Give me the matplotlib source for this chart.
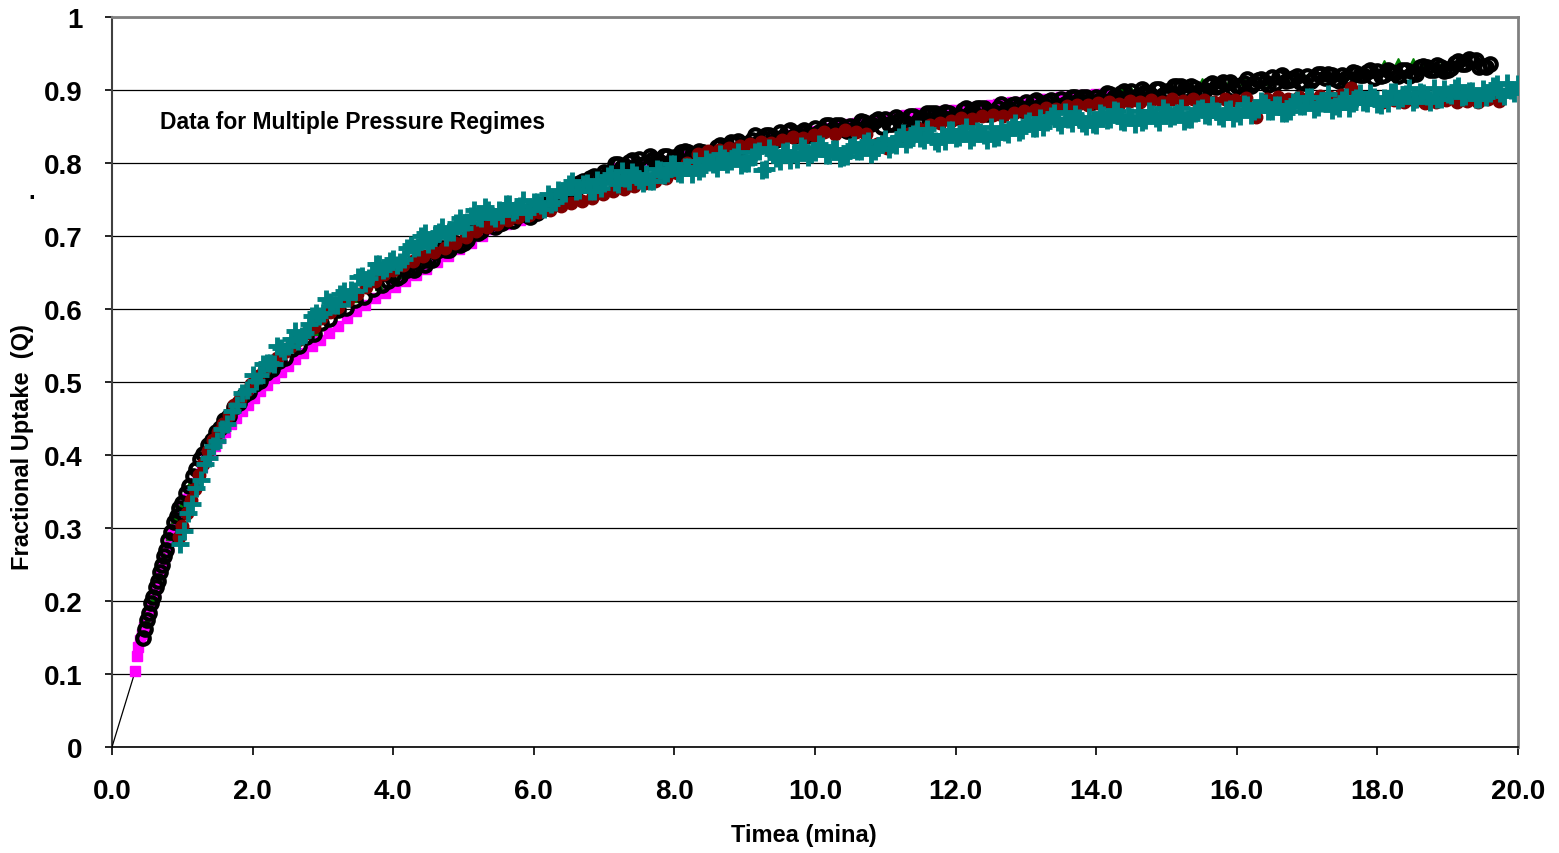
import matplotlib
matplotlib.use("Agg")
import matplotlib.pyplot as plt
from matplotlib.ticker import MultipleLocator, FixedLocator

plt.rcParams["font.family"] = ["Liberation Sans", "DejaVu Sans"]
plt.rcParams["font.weight"] = "bold"

# ---- uptake data, time in min, Q = fractional uptake ----
# magenta squares
T_MAG = [0.33, 0.35, 0.37, 0.40, 0.43, 0.46, 0.49, 0.52, 0.55, 0.58, 0.61, 0.64, 0.67,
         0.70, 0.73, 0.76, 0.79, 0.83, 0.87, 0.91, 0.95, 1.00, 1.05, 1.10, 1.16, 1.22,
         1.28, 1.34, 1.40, 1.47, 1.54, 1.61, 1.69, 1.77, 1.85, 1.93, 2.02, 2.11, 2.20,
         2.30, 2.40, 2.50, 2.61, 2.72, 2.84, 2.96, 3.08, 3.21, 3.34, 3.47, 3.60, 3.74,
         3.88, 4.02, 4.17, 4.32, 4.47, 4.62, 4.78, 4.94, 5.10, 5.26, 5.42, 5.60, 5.80,
         6.00, 6.20, 6.40, 6.60, 6.80, 7.00, 7.20, 7.40, 7.60, 7.80, 8.00, 8.20, 8.40,
         8.60, 8.80, 9.00, 9.20, 9.40, 9.60, 9.80, 10.00, 10.20, 10.40, 10.50, 10.60,
         10.70, 10.80, 10.90, 11.00, 11.10, 11.20, 11.30, 11.40, 11.50, 11.60, 11.70,
         11.80, 11.90, 12.00, 12.10, 12.20, 12.30, 12.40, 12.50, 12.60, 12.70, 12.80,
         12.90, 13.00, 13.10, 13.20, 13.30, 13.40, 13.50, 13.60, 13.70, 13.80, 13.90,
         14.00, 14.10, 14.20]
Q_MAG = [0.104, 0.124, 0.137, 0.146, 0.155, 0.164, 0.174, 0.183, 0.193, 0.202, 0.212,
         0.222, 0.232, 0.242, 0.252, 0.262, 0.272, 0.285, 0.297, 0.308, 0.318, 0.329,
         0.340, 0.350, 0.362, 0.373, 0.384, 0.393, 0.403, 0.413, 0.423, 0.432, 0.442,
         0.451, 0.460, 0.469, 0.478, 0.487, 0.496, 0.505, 0.514, 0.522, 0.531, 0.540,
         0.549, 0.558, 0.567, 0.577, 0.587, 0.597, 0.606, 0.615, 0.622, 0.630, 0.638,
         0.647, 0.655, 0.664, 0.673, 0.682, 0.691, 0.700, 0.709, 0.716, 0.722, 0.729,
         0.736, 0.748, 0.761, 0.772, 0.783, 0.793, 0.797, 0.800, 0.803, 0.806, 0.809,
         0.812, 0.815, 0.820, 0.826, 0.831, 0.835, 0.838, 0.841, 0.844, 0.848, 0.851,
         0.853, 0.855, 0.856, 0.858, 0.860, 0.862, 0.863, 0.864, 0.866, 0.867, 0.868,
         0.869, 0.870, 0.871, 0.872, 0.873, 0.874, 0.875, 0.877, 0.878, 0.879, 0.881,
         0.882, 0.883, 0.884, 0.885, 0.886, 0.887, 0.888, 0.889, 0.890, 0.891, 0.892,
         0.893, 0.893, 0.894, 0.894, 0.895]

# green triangles
T_GRN = [0.50, 0.58, 0.66, 0.74, 0.82, 0.90, 1.00, 1.12, 1.25, 1.40, 1.55, 1.70, 1.90,
         2.10, 2.35, 2.60, 2.90, 3.20, 3.50, 3.80, 4.10, 4.40, 4.70, 5.00, 5.30, 5.60,
         5.90, 6.20, 6.50, 6.80, 7.10, 7.40, 7.70, 8.00, 8.30, 8.60, 8.90, 9.20, 9.50,
         9.80, 10.10, 10.40, 10.70, 11.00, 11.30, 11.60, 11.90, 12.20, 12.50, 12.80,
         13.10, 13.40, 13.70, 14.00, 14.20, 14.37, 14.50, 14.80, 15.10, 15.30, 15.50,
         15.70, 15.90, 16.10, 16.40, 16.70, 17.00, 17.30, 17.60, 17.90, 18.10, 18.30,
         18.50, 18.65, 18.90, 19.10]
Q_GRN = [0.172, 0.203, 0.232, 0.260, 0.289, 0.312, 0.333, 0.363, 0.392, 0.418, 0.440,
         0.461, 0.483, 0.502, 0.524, 0.546, 0.570, 0.596, 0.615, 0.632, 0.648, 0.663,
         0.678, 0.695, 0.711, 0.722, 0.730, 0.741, 0.760, 0.777, 0.794, 0.800, 0.804,
         0.808, 0.812, 0.818, 0.826, 0.834, 0.838, 0.842, 0.846, 0.850, 0.854, 0.857,
         0.861, 0.864, 0.867, 0.870, 0.874, 0.878, 0.881, 0.884, 0.887, 0.890, 0.895,
         0.903, 0.899, 0.898, 0.902, 0.910, 0.911, 0.912, 0.912, 0.912, 0.913, 0.915,
         0.917, 0.918, 0.920, 0.923, 0.936, 0.938, 0.938, 0.936, 0.931, 0.934]

# black open circles, first pass
T_BLK_A = [0.44, 0.47, 0.50, 0.53, 0.56, 0.59, 0.62, 0.65, 0.68, 0.71, 0.74, 0.77, 0.80,
           0.84, 0.88, 0.92, 0.96, 1.00, 1.05, 1.10, 1.15, 1.20, 1.25, 1.30, 1.36, 1.42,
           1.48, 1.54, 1.60, 1.67, 1.74, 1.81, 1.88, 1.95, 2.03, 2.11, 2.19, 2.28, 2.37,
           2.46, 2.56, 2.66, 2.76, 2.87, 2.98, 3.09, 3.21, 3.33, 3.45, 3.58, 3.71, 3.84,
           3.92,
           4.0, 4.1, 4.2, 4.3, 4.4, 4.5, 4.6, 4.7, 4.8, 4.9,
           5.0, 5.1, 5.2, 5.3, 5.4, 5.5, 5.6, 5.7, 5.8, 5.9,
           6.0, 6.1, 6.2, 6.3, 6.4, 6.5, 6.6, 6.7, 6.8, 6.9,
           7.0, 7.1, 7.2, 7.3, 7.4, 7.5, 7.6, 7.7, 7.8, 7.9,
           8.0, 8.1, 8.2, 8.3, 8.4, 8.5, 8.6, 8.7, 8.8, 8.9,
           9.0, 9.1, 9.2, 9.3, 9.4, 9.5, 9.6, 9.7, 9.8, 9.9,
           10.0, 10.1, 10.2, 10.3, 10.4, 10.5, 10.6, 10.7, 10.8, 10.9,
           11.0, 11.1, 11.2, 11.3, 11.4, 11.5, 11.6, 11.7, 11.8, 11.9,
           12.0, 12.1, 12.2, 12.3, 12.4, 12.5, 12.6, 12.7, 12.8, 12.9,
           13.0, 13.1, 13.2, 13.3, 13.4, 13.5, 13.6, 13.7, 13.8, 13.9,
           14.0, 14.1, 14.2, 14.3, 14.4, 14.5, 14.6, 14.7, 14.8, 14.9,
           15.0, 15.1, 15.2, 15.3, 15.4, 15.5, 15.6, 15.7, 15.8, 15.9,
           16.0, 16.1, 16.2, 16.3, 16.4, 16.5, 16.6, 16.7, 16.8, 16.9,
           17.0, 17.1, 17.2, 17.3, 17.4, 17.5, 17.6, 17.7, 17.8, 17.9,
           18.0, 18.1, 18.2, 18.3, 18.4, 18.5, 18.6, 18.7, 18.8, 18.9,
           19.0, 19.1, 19.2, 19.3, 19.4, 19.5, 19.6]
Q_BLK_A = [0.150, 0.161, 0.174, 0.184, 0.197, 0.206, 0.219, 0.228, 0.240, 0.249, 0.262,
           0.270, 0.283, 0.295, 0.308, 0.316, 0.327, 0.334, 0.348, 0.357, 0.371, 0.381,
           0.394, 0.402, 0.414, 0.420, 0.431, 0.437, 0.448, 0.454, 0.466, 0.471, 0.482,
           0.486, 0.497, 0.502, 0.513, 0.518, 0.529, 0.533, 0.545, 0.549, 0.561, 0.566,
           0.581, 0.586, 0.599, 0.602, 0.613, 0.616, 0.628, 0.633,
           0.638,
           0.647, 0.645, 0.654, 0.653, 0.666, 0.667, 0.678, 0.683, 0.681, 0.691,
           0.690, 0.703, 0.704, 0.715, 0.719, 0.717, 0.724, 0.720, 0.731, 0.729,
           0.738, 0.741, 0.738, 0.748, 0.748, 0.762, 0.764, 0.775, 0.780, 0.779,
           0.788, 0.788, 0.798, 0.796, 0.804, 0.805, 0.800, 0.805, 0.801, 0.810,
           0.808, 0.815, 0.815, 0.810, 0.815, 0.811, 0.822, 0.820, 0.829, 0.830,
           0.826, 0.832, 0.829, 0.838, 0.835, 0.843, 0.843, 0.837, 0.842, 0.838,
           0.848, 0.845, 0.852, 0.852, 0.846, 0.851, 0.847, 0.856, 0.853, 0.860,
           0.860, 0.854, 0.859, 0.855, 0.864, 0.861, 0.868, 0.868, 0.863, 0.868,
           0.863, 0.872, 0.869, 0.876, 0.876, 0.870, 0.876, 0.871, 0.880, 0.877,
           0.884, 0.884, 0.878, 0.883, 0.878, 0.887, 0.884, 0.891, 0.891, 0.885,
           0.890, 0.885, 0.894, 0.891, 0.898, 0.898, 0.892, 0.897, 0.892, 0.901,
           0.898, 0.905, 0.905, 0.898, 0.903, 0.898, 0.907, 0.904, 0.911, 0.911,
           0.905, 0.910, 0.905, 0.914, 0.911, 0.918, 0.918, 0.912, 0.916, 0.911,
           0.919, 0.916, 0.922, 0.922, 0.915, 0.920, 0.915, 0.923, 0.920, 0.927,
           0.926, 0.920, 0.924, 0.919, 0.928, 0.924, 0.932, 0.932, 0.927, 0.932,
           0.928, 0.937, 0.935, 0.942, 0.941, 0.933, 0.936]

# black open circles, in-between readings
T_BLK_B = [4.05, 4.15, 4.25, 4.35, 4.45, 4.55, 4.65, 4.75, 4.85, 4.95,
           5.05, 5.15, 5.25, 5.35, 5.45, 5.55, 5.65, 5.75, 5.85, 5.95,
           6.05, 6.15, 6.25, 6.35, 6.45, 6.55, 6.65, 6.75, 6.85, 6.95,
           7.05, 7.15, 7.25, 7.35, 7.45, 7.55, 7.65, 7.75, 7.85, 7.95,
           8.05, 8.15, 8.25, 8.35, 8.45, 8.55, 8.65, 8.75, 8.85, 8.95,
           9.05, 9.15, 9.25, 9.35, 9.45, 9.55, 9.65, 9.75, 9.85, 9.95,
           10.05, 10.15, 10.25, 10.35, 10.45, 10.55, 10.65, 10.75, 10.85, 10.95,
           11.05, 11.15, 11.25, 11.35, 11.45, 11.55, 11.65, 11.75, 11.85, 11.95,
           12.05, 12.15, 12.25, 12.35, 12.45, 12.55, 12.65, 12.75, 12.85, 12.95,
           13.05, 13.15, 13.25, 13.35, 13.45, 13.55, 13.65, 13.75, 13.85, 13.95,
           14.05, 14.15, 14.25, 14.35, 14.45, 14.55, 14.65, 14.75, 14.85, 14.95,
           15.05, 15.15, 15.25, 15.35, 15.45, 15.55, 15.65, 15.75, 15.85, 15.95,
           16.05, 16.15, 16.25, 16.35, 16.45, 16.55, 16.65, 16.75, 16.85, 16.95,
           17.05, 17.15, 17.25, 17.35, 17.45, 17.55, 17.65, 17.75, 17.85, 17.95,
           18.05, 18.15, 18.25, 18.35, 18.45, 18.55, 18.65, 18.75, 18.85, 18.95,
           19.05, 19.15, 19.25, 19.35, 19.45, 19.55]
Q_BLK_B = [0.642, 0.656, 0.655, 0.664, 0.660, 0.667, 0.681, 0.681, 0.690, 0.687,
           0.694, 0.708, 0.707, 0.716, 0.712, 0.718, 0.729, 0.726, 0.732, 0.726,
           0.731, 0.744, 0.743, 0.753, 0.750, 0.758, 0.773, 0.772, 0.782, 0.779,
           0.786, 0.799, 0.795, 0.801, 0.794, 0.798, 0.809, 0.804, 0.810, 0.802,
           0.806, 0.816, 0.811, 0.817, 0.809, 0.814, 0.825, 0.822, 0.828, 0.822,
           0.826, 0.838, 0.834, 0.839, 0.831, 0.835, 0.845, 0.840, 0.845, 0.838,
           0.842, 0.852, 0.847, 0.852, 0.844, 0.847, 0.858, 0.853, 0.858, 0.850,
           0.853, 0.863, 0.858, 0.864, 0.856, 0.859, 0.869, 0.864, 0.870, 0.862,
           0.865, 0.875, 0.870, 0.875, 0.867, 0.870, 0.881, 0.876, 0.881, 0.873,
           0.876, 0.886, 0.881, 0.886, 0.878, 0.881, 0.891, 0.886, 0.891, 0.883,
           0.886, 0.896, 0.891, 0.896, 0.888, 0.891, 0.901, 0.896, 0.901, 0.893,
           0.896, 0.906, 0.900, 0.905, 0.897, 0.900, 0.910, 0.905, 0.910, 0.902,
           0.905, 0.915, 0.910, 0.915, 0.907, 0.910, 0.920, 0.914, 0.919, 0.910,
           0.913, 0.922, 0.917, 0.921, 0.913, 0.916, 0.925, 0.920, 0.925, 0.916,
           0.919, 0.928, 0.923, 0.928, 0.919, 0.922, 0.933, 0.928, 0.934, 0.926,
           0.930, 0.940, 0.936, 0.940, 0.931, 0.932]

# dark red filled circles
T_RED = [0.95, 1.00, 1.06, 1.12, 1.18, 1.24, 1.30, 1.37, 1.44, 1.51, 1.58, 1.66, 1.74,
         1.82, 1.90, 1.98, 2.07, 2.16, 2.26, 2.35, 2.45, 2.55, 2.65, 2.76, 2.87, 2.98,
         3.10, 3.22, 3.35, 3.48, 3.61, 3.74, 3.87, 4.00, 4.14, 4.28, 4.43, 4.58, 4.73,
         4.88, 5.03, 5.18, 5.33, 5.48, 5.63, 5.78, 5.93, 6.08, 6.23, 6.38, 6.53, 6.68,
         6.83, 6.98, 7.13, 7.28, 7.43, 7.58, 7.73, 7.88, 8.03, 8.18, 8.33, 8.48, 8.63,
         8.78, 8.93, 9.08, 9.23, 9.38, 9.53, 9.68, 9.83, 9.98, 10.13, 10.28, 10.43,
         10.58, 10.73, 10.88, 11.03, 11.18, 11.33, 11.48, 11.63, 11.78, 11.93, 12.08,
         12.23, 12.38, 12.53, 12.68, 12.83, 12.98, 13.13, 13.28, 13.43, 13.58, 13.73,
         13.88, 14.03, 14.18, 14.33, 14.48, 14.63, 14.78, 14.93, 15.08, 15.23, 15.38,
         15.53, 15.68, 15.83, 15.98, 16.13, 16.28, 16.43, 16.58, 16.73, 16.88, 17.03,
         17.18, 17.33, 17.48, 17.63, 17.78, 17.93, 18.08, 18.23, 18.38, 18.53, 18.68,
         18.83, 18.98, 19.13, 19.28, 19.43, 19.58, 19.73]
Q_RED = [0.288, 0.303, 0.320, 0.338, 0.354, 0.372, 0.388, 0.405, 0.420, 0.432, 0.442,
         0.455, 0.468, 0.477, 0.488, 0.497, 0.508, 0.517, 0.525, 0.533, 0.541, 0.550,
         0.557, 0.567, 0.576, 0.588, 0.596, 0.603, 0.612, 0.621, 0.630, 0.638, 0.648,
         0.654, 0.660, 0.666, 0.672, 0.678, 0.683, 0.690, 0.699, 0.707, 0.713, 0.716,
         0.722, 0.726, 0.729, 0.733, 0.736, 0.741, 0.745, 0.748, 0.752, 0.757, 0.762,
         0.765, 0.768, 0.772, 0.775, 0.779, 0.786, 0.800, 0.812, 0.816, 0.818, 0.820,
         0.823, 0.826, 0.829, 0.827, 0.832, 0.836, 0.834, 0.838, 0.842, 0.840, 0.845,
         0.843, 0.840, 0.826, 0.820, 0.832, 0.840, 0.846, 0.852, 0.855, 0.858, 0.861,
         0.860, 0.864, 0.866, 0.865, 0.869, 0.871, 0.873, 0.876, 0.874, 0.878, 0.880,
         0.879, 0.882, 0.884, 0.881, 0.885, 0.883, 0.886, 0.884, 0.887, 0.885, 0.888,
         0.886, 0.884, 0.888, 0.886, 0.889, 0.863, 0.887, 0.890, 0.888, 0.891, 0.889,
         0.892, 0.890, 0.893, 0.903, 0.891, 0.888, 0.884, 0.886, 0.883, 0.885, 0.882,
         0.884, 0.886, 0.883, 0.885, 0.884, 0.887, 0.885]

# teal plus signs, first pass
T_TEAL_A = [0.97, 1.02, 1.08, 1.14, 1.20, 1.26, 1.32, 1.38, 1.44, 1.50, 1.57, 1.64, 1.71,
            1.78, 1.85, 1.92,
            2.0, 2.1, 2.2, 2.3, 2.4, 2.5, 2.6, 2.7, 2.8, 2.9,
            3.0, 3.1, 3.2, 3.3, 3.4, 3.5, 3.6, 3.7, 3.8, 3.9,
            4.0, 4.1, 4.2, 4.3, 4.4, 4.5, 4.6, 4.7, 4.8, 4.9,
            5.0, 5.1, 5.2, 5.3, 5.4, 5.5, 5.6, 5.7, 5.8, 5.9,
            6.0, 6.1, 6.2, 6.3, 6.4, 6.5, 6.6, 6.7, 6.8, 6.9,
            7.0, 7.1, 7.2, 7.3, 7.4, 7.5, 7.6, 7.7, 7.8, 7.9,
            8.0, 8.1, 8.2, 8.3, 8.4, 8.5, 8.6, 8.7, 8.8, 8.9,
            9.0, 9.1, 9.2, 9.3, 9.4, 9.5, 9.6, 9.7, 9.8, 9.9,
            10.0, 10.1, 10.2, 10.3, 10.4, 10.5, 10.6, 10.7, 10.8, 10.9,
            11.0, 11.1, 11.2, 11.3, 11.4, 11.5, 11.6, 11.7, 11.8, 11.9,
            12.0, 12.1, 12.2, 12.3, 12.4, 12.5, 12.6, 12.7, 12.8, 12.9,
            13.0, 13.1, 13.2, 13.3, 13.4, 13.5, 13.6, 13.7, 13.8, 13.9,
            14.0, 14.1, 14.2, 14.3, 14.4, 14.5, 14.6, 14.7, 14.8, 14.9,
            15.0, 15.1, 15.2, 15.3, 15.4, 15.5, 15.6, 15.7, 15.8, 15.9,
            16.0, 16.1, 16.2, 16.3, 16.4, 16.5, 16.6, 16.7, 16.8, 16.9,
            17.0, 17.1, 17.2, 17.3, 17.4, 17.5, 17.6, 17.7, 17.8, 17.9,
            18.0, 18.1, 18.2, 18.3, 18.4, 18.5, 18.6, 18.7, 18.8, 18.9,
            19.0, 19.1, 19.2, 19.3, 19.4, 19.5, 19.6, 19.7, 19.8, 19.9,
            20.0, 20.07]
Q_TEAL_A = [0.278, 0.296, 0.320, 0.333, 0.355, 0.366, 0.387, 0.396, 0.413, 0.419, 0.436,
            0.443, 0.460, 0.468, 0.485, 0.489,
            0.510, 0.509, 0.526, 0.525, 0.547, 0.550, 0.570, 0.563, 0.579, 0.595,
            0.595, 0.609, 0.605, 0.625, 0.626, 0.644, 0.635, 0.649, 0.662, 0.656,
            0.669, 0.664, 0.683, 0.683, 0.700, 0.689, 0.701, 0.713, 0.706, 0.718,
            0.711, 0.728, 0.726, 0.740, 0.727, 0.736, 0.744, 0.733, 0.741, 0.731,
            0.746, 0.743, 0.758, 0.747, 0.759, 0.771, 0.762, 0.771, 0.762, 0.777,
            0.773, 0.785, 0.771, 0.779, 0.787, 0.777, 0.785, 0.776, 0.790, 0.786,
            0.799, 0.785, 0.794, 0.803, 0.793, 0.802, 0.793, 0.807, 0.803, 0.815,
            0.800, 0.808, 0.816, 0.792, 0.813, 0.803, 0.817, 0.812, 0.823, 0.808,
            0.815, 0.823, 0.811, 0.819, 0.808, 0.822, 0.816, 0.828, 0.813, 0.822,
            0.833, 0.826, 0.836, 0.826, 0.840, 0.834, 0.846, 0.830, 0.838, 0.845,
            0.834, 0.841, 0.831, 0.844, 0.839, 0.850, 0.835, 0.842, 0.850, 0.842,
            0.855, 0.848, 0.862, 0.856, 0.868, 0.852, 0.860, 0.867, 0.855, 0.863,
            0.852, 0.866, 0.860, 0.871, 0.856, 0.863, 0.871, 0.859, 0.867, 0.856,
            0.870, 0.864, 0.876, 0.860, 0.868, 0.875, 0.864, 0.871, 0.861, 0.874,
            0.869, 0.881, 0.866, 0.874, 0.882, 0.871, 0.879, 0.869, 0.883, 0.878,
            0.890, 0.874, 0.882, 0.895, 0.878, 0.886, 0.876, 0.889, 0.884, 0.896,
            0.881, 0.889, 0.897, 0.886, 0.894, 0.884, 0.897, 0.892, 0.903, 0.888,
            0.895, 0.903, 0.891, 0.899, 0.888, 0.902, 0.896, 0.908, 0.892, 0.900,
            0.908, 0.904]

# teal plus signs, in-between readings
T_TEAL_B = [2.05, 2.15, 2.25, 2.35, 2.45, 2.55, 2.65, 2.75, 2.85, 2.95,
            3.05, 3.15, 3.25, 3.35, 3.45, 3.55, 3.65, 3.75, 3.85, 3.95,
            4.05, 4.15, 4.25, 4.35, 4.45, 4.55, 4.65, 4.75, 4.85, 4.95,
            5.05, 5.15, 5.25, 5.35, 5.45, 5.55, 5.65, 5.75, 5.85, 5.95,
            6.05, 6.15, 6.25, 6.35, 6.45, 6.55, 6.65, 6.75, 6.85, 6.95,
            7.05, 7.15, 7.25, 7.35, 7.45, 7.55, 7.65, 7.75, 7.85, 7.95,
            8.05, 8.15, 8.25, 8.35, 8.45, 8.55, 8.65, 8.75, 8.85, 8.95,
            9.05, 9.15, 9.25, 9.35, 9.45, 9.55, 9.65, 9.75, 9.85, 9.95,
            10.05, 10.15, 10.25, 10.35, 10.45, 10.55, 10.65, 10.75, 10.85, 10.95,
            11.05, 11.15, 11.25, 11.35, 11.45, 11.55, 11.65, 11.75, 11.85, 11.95,
            12.05, 12.15, 12.25, 12.35, 12.45, 12.55, 12.65, 12.75, 12.85, 12.95,
            13.05, 13.15, 13.25, 13.35, 13.45, 13.55, 13.65, 13.75, 13.85, 13.95,
            14.05, 14.15, 14.25, 14.35, 14.45, 14.55, 14.65, 14.75, 14.85, 14.95,
            15.05, 15.15, 15.25, 15.35, 15.45, 15.55, 15.65, 15.75, 15.85, 15.95,
            16.05, 16.15, 16.25, 16.35, 16.45, 16.55, 16.65, 16.75, 16.85, 16.95,
            17.05, 17.15, 17.25, 17.35, 17.45, 17.55, 17.65, 17.75, 17.85, 17.95,
            18.05, 18.15, 18.25, 18.35, 18.45, 18.55, 18.65, 18.75, 18.85, 18.95,
            19.05, 19.15, 19.25, 19.35, 19.45, 19.55, 19.65, 19.75, 19.85, 19.95]
Q_TEAL_B = [0.501, 0.525, 0.526, 0.549, 0.543, 0.559, 0.556, 0.567, 0.590, 0.591,
            0.614, 0.606, 0.620, 0.615, 0.624, 0.645, 0.643, 0.662, 0.653, 0.666,
            0.660, 0.668, 0.688, 0.685, 0.704, 0.694, 0.706, 0.699, 0.706, 0.724,
            0.719, 0.736, 0.725, 0.735, 0.725, 0.729, 0.744, 0.736, 0.750, 0.736,
            0.746, 0.737, 0.744, 0.763, 0.759, 0.776, 0.763, 0.772, 0.762, 0.766,
            0.782, 0.774, 0.789, 0.775, 0.783, 0.773, 0.776, 0.792, 0.784, 0.799,
            0.786, 0.795, 0.785, 0.789, 0.805, 0.798, 0.813, 0.799, 0.808, 0.797,
            0.800, 0.815, 0.790, 0.821, 0.807, 0.815, 0.804, 0.806, 0.821, 0.812,
            0.826, 0.811, 0.819, 0.807, 0.810, 0.824, 0.816, 0.830, 0.816, 0.826,
            0.819, 0.825, 0.841, 0.833, 0.846, 0.832, 0.839, 0.828, 0.830, 0.845,
            0.836, 0.850, 0.835, 0.843, 0.831, 0.834, 0.848, 0.840, 0.855, 0.845,
            0.857, 0.848, 0.850, 0.865, 0.856, 0.870, 0.855, 0.862, 0.851, 0.853,
            0.868, 0.859, 0.872, 0.858, 0.865, 0.854, 0.856, 0.871, 0.862, 0.876,
            0.861, 0.869, 0.857, 0.860, 0.874, 0.866, 0.879, 0.865, 0.872, 0.861,
            0.864, 0.879, 0.871, 0.885, 0.871, 0.879, 0.868, 0.871, 0.886, 0.878,
            0.891, 0.877, 0.885, 0.873, 0.876, 0.891, 0.882, 0.896, 0.882, 0.890,
            0.879, 0.882, 0.897, 0.889, 0.903, 0.888, 0.896, 0.884, 0.887, 0.901,
            0.893, 0.906, 0.892, 0.899, 0.888, 0.890, 0.905, 0.896, 0.910, 0.896]

T_BLK = T_BLK_A + T_BLK_B
Q_BLK = Q_BLK_A + Q_BLK_B
T_TEAL = T_TEAL_A + T_TEAL_B
Q_TEAL = Q_TEAL_A + Q_TEAL_B

# straight segment from the origin to the first measured point
LINE_T = [0.0, T_MAG[0]]
LINE_Q = [0.0, Q_MAG[0]]

Y_TICKS = [0, 0.1, 0.2, 0.3, 0.4, 0.5, 0.6, 0.7, 0.8, 0.9, 1]
Y_TICKLABELS = ["0", "0.1", "0.2", "0.3", "0.4", "0.5", "0.6", "0.7", "0.8", "0.9", "1"]

fig = plt.figure(figsize=(15.59, 8.54), dpi=100)
ax = fig.add_axes([112 / 1559, 1 - 748 / 854, 1406 / 1559, 730 / 854])

ax.plot(LINE_T, LINE_Q, color="black", lw=0.9, zorder=3)
ax.plot(T_MAG, Q_MAG, ls="none", marker="s", ms=6.5, color="#FF00FF", mec="#FF00FF", zorder=4)
ax.plot(T_GRN, Q_GRN, ls="none", marker="^", ms=6, color="#008000", mec="#008000", zorder=5)
ax.plot(T_BLK, Q_BLK, ls="none", marker="o", ms=9, mfc="none", mec="black", mew=3, zorder=6)
ax.plot(T_RED, Q_RED, ls="none", marker="o", ms=9, color="#800000", mec="#800000", zorder=7)
ax.plot(T_TEAL, Q_TEAL, ls="none", marker="+", ms=13, mew=3.5, color="#008080", zorder=8)

ax.set_xlim(0, 20)
ax.set_ylim(0, 1)
ax.xaxis.set_major_locator(MultipleLocator(2))
ax.xaxis.set_major_formatter(lambda v, p: f"{v:.1f}")
ax.yaxis.set_major_locator(FixedLocator(Y_TICKS))
ax.set_yticklabels(Y_TICKLABELS)

ax.grid(axis="y", color="black", lw=0.9, zorder=1)
ax.set_axisbelow(True)

for side in ("top", "right"):
    ax.spines[side].set_color("#808080")
    ax.spines[side].set_linewidth(2)
ax.spines["left"].set_color("#404040")
ax.spines["left"].set_linewidth(1.5)
ax.spines["bottom"].set_color("black")
ax.spines["bottom"].set_linewidth(1.2)

ax.tick_params(axis="y", direction="out", length=5, width=1.2, pad=16, labelsize=20)
ax.tick_params(axis="x", direction="out", length=6, width=1.2, pad=16, labelsize=20)
for lab in ax.get_xticklabels() + ax.get_yticklabels():
    lab.set_fontweight("bold")

ax.set_xlabel("Timea (mina)", fontsize=17, fontweight="bold")
ax.xaxis.set_label_coords(0.492, -0.1205)
ax.xaxis.label.set_va("center")
ax.set_ylabel("Fractional Uptake  (Q)", fontsize=17, fontweight="bold")
ax.yaxis.set_label_coords(-0.064, 0.412)
ax.yaxis.label.set_va("center")

ax.text(0.0341, 0.8575, "Data for Multiple Pressure Regimes", transform=ax.transAxes,
        fontsize=16.5, fontweight="bold", va="center", ha="left")
fig.text(28 / 1559, 1 - 199 / 854, ".", fontsize=17, fontweight="bold")

fig.savefig("out.png", dpi=100)
